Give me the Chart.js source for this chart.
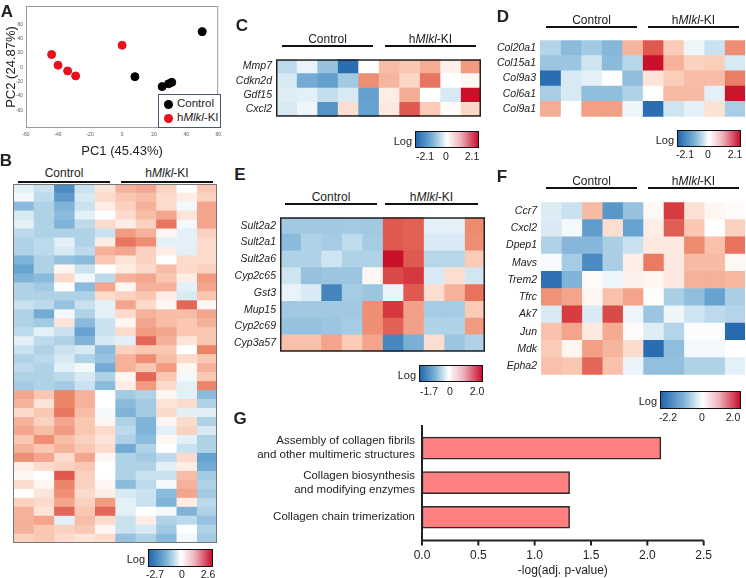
<!DOCTYPE html>
<html>
<head>
<meta charset="utf-8">
<script src="https://cdn.jsdelivr.net/npm/chart.js@4.4.1/dist/chart.umd.min.js"></script>
<style>
  body { margin: 0; background: #fff; width: 746px; height: 578px; overflow: hidden; position: relative; font-family: "Liberation Sans", Arial, sans-serif; }
  canvas { position: absolute; }
  .txt { position: absolute; white-space: nowrap; line-height: 1; color: #222; }
  .rule { position: absolute; height: 1.5px; background: #111; }
  .cbar { position: absolute; border: 1px solid #111; box-sizing: border-box; }
</style>
</head>
<body>
<canvas id="pca" width="225" height="160" style="left:0;top:0"></canvas>
<canvas id="heatB" width="204" height="359" style="left:13px;top:184px"></canvas>
<canvas id="heatC" width="265" height="78" style="left:216px;top:49px"></canvas>
<canvas id="heatD" width="265" height="97" style="left:480px;top:30px"></canvas>
<canvas id="heatE" width="265" height="155" style="left:220px;top:207px"></canvas>
<canvas id="heatF" width="264" height="193" style="left:481px;top:192px"></canvas>
<canvas id="bars" width="526" height="161" style="left:200px;top:417px"></canvas>
<script>
// PCA scores (PC1, PC2)
const controlPC = [{x: 50, y: 50}, {x: 8, y: -13}, {x: 25, y: -27}, {x: 29, y: -23}, {x: 31, y: -21}];
const kiPC = [{x: -44, y: 18}, {x: -40, y: 3}, {x: -34, y: -5}, {x: -29, y: -12}, {x: 0, y: 31}];

// heatmap values, as a fraction of the colour-bar limit (-1 .. 1), 5 control + 5 KI columns
const heatB = [
  [-0.1,-0.2,-0.75,-0.2,0.15, 0.4,0.45,0.25,0,0.3],
  [-0.05,-0.25,-0.65,-0.15,0.2, 0.3,0.35,0.2,0.1,0.25],
  [-0.45,-0.3,-0.5,-0.2,0.1, 0.25,0.4,0.2,-0.05,0.45],
  [-0.15,-0.3,-0.45,-0.1,0, 0.2,0.35,0.45,0.15,0.45],
  [-0.1,-0.3,-0.5,-0.25,0.2, 0.1,0.25,0.65,-0.05,0.45],
  [-0.25,-0.3,-0.3,-0.3,-0.2, 0.5,0.4,0.05,-0.1,0.25],
  [-0.3,-0.25,-0.1,-0.3,0.1, 0.65,0.55,-0.1,-0.1,0.2],
  [-0.3,-0.25,-0.15,-0.25,0.4, 0.45,0.25,0.1,-0.1,0.2],
  [-0.5,-0.3,-0.4,-0.45,0.3, 0.15,0.25,0,0.2,0.2],
  [-0.6,-0.3,0.05,-0.2,0, 0.1,0.2,0.35,0.2,0.25],
  [-0.5,-0.45,0.2,-0.05,-0.25, 0.4,0.45,0.3,0.1,0.5],
  [-0.3,-0.35,0,-0.45,0.45, 0.05,0.4,0.4,-0.1,0.45],
  [-0.3,-0.3,-0.3,-0.3,0.2, 0.25,0.3,0.1,-0.15,0.3],
  [-0.2,-0.25,-0.4,-0.2,-0.1, 0.45,0.2,0.05,0.7,0.05],
  [-0.3,-0.55,-0.05,-0.3,-0.1, 0.2,0.4,0.35,0.35,0.45],
  [-0.3,-0.35,0.15,-0.45,-0.2, 0.05,0.45,0.35,0.3,0.4],
  [-0.25,-0.1,-0.2,-0.6,-0.2, 0.2,0.5,0.45,0.3,0.3],
  [-0.1,-0.25,-0.3,-0.5,-0.15, -0.1,0.7,0.4,0.15,0.3],
  [-0.2,-0.3,-0.2,-0.15,-0.45, 0.25,0.3,0.3,0,0.6],
  [-0.3,-0.25,-0.15,-0.3,-0.4, 0.4,0.55,0.35,0.2,0.3],
  [-0.25,-0.3,-0.1,-0.05,-0.55, 0.4,0.3,0.5,0.05,0.4],
  [-0.3,-0.3,-0.25,-0.15,-0.3, 0.05,0.7,0.3,-0.05,0.3],
  [-0.35,-0.3,-0.35,-0.2,-0.45, 0.1,0.5,0.2,-0.1,0.6],
  [0.45,0.3,0.6,0.4,0, -0.35,-0.3,0.05,-0.1,-0.45],
  [0.4,0.15,0.6,0.4,0, -0.45,-0.35,0.15,0.2,-0.3],
  [0.2,0.3,0.65,0.35,-0.05, -0.5,-0.35,0.2,-0.1,-0.1],
  [0.4,0.25,0.45,0.3,0.05, -0.3,-0.5,0.05,0.2,-0.3],
  [0.45,0.35,0.5,0.3,0.2, -0.25,-0.5,-0.1,0.25,-0.15],
  [0.3,0.55,0.35,0.25,0.15, -0.3,-0.45,0.05,-0.1,-0.3],
  [0.4,0.3,0.4,0.3,0.2, -0.55,-0.3,0,-0.2,-0.3],
  [0.55,0.45,0.2,0.45,0.05, -0.3,-0.35,-0.25,0.2,-0.6],
  [0.1,0.2,0.25,0.3,0, -0.3,-0.3,-0.1,0.1,-0.55],
  [0.05,0,0.75,0.25,0, -0.3,-0.2,-0.2,0.35,-0.35],
  [0.2,0.05,0.6,0.25,0.05, -0.45,-0.25,-0.05,0.4,-0.3],
  [0,0.15,0.55,0.2,0.1, -0.15,-0.2,-0.45,0.45,-0.35],
  [0.25,0.2,0.45,0.25,0.5, -0.1,-0.2,-0.5,0.1,-0.25],
  [0.4,0.15,0.7,0.3,0.7, -0.1,0,-0.05,-0.5,-0.3],
  [0.4,0.45,-0.1,0.35,0.2, -0.2,0.1,-0.3,-0.25,-0.4],
  [0.4,0.3,0.25,0.3,0.05, -0.2,-0.15,-0.35,0,-0.3],
  [0.25,0.3,0.2,0.15,0.2, -0.4,-0.3,-0.45,-0.05,-0.35]
];

const genesC = ['Mmp7', 'Cdkn2d', 'Gdf15', 'Cxcl2'];
const heatC = [
  [-0.25,-0.08,-0.4,-0.95,0, 0.35,0.3,0.42,0.08,0.5],
  [-0.15,-0.55,-0.62,-0.35,0.55, 0.38,0.22,0.65,0,0.05],
  [-0.12,-0.1,-0.22,-0.14,-0.62, 0.1,0.42,0,-0.15,1.0],
  [-0.15,-0.06,-0.7,0.18,-0.6, 0.12,0.75,0.28,0.02,0.22]
];

const genesD = ['Col20a1', 'Col15a1', 'Col9a3', 'Col6a1', 'Col9a1'];
const heatD = [
  [-0.28,-0.45,-0.35,-0.47,0.38, 0.75,0.28,-0.06,-0.2,0.55],
  [-0.38,-0.38,-0.18,-0.45,-0.27, 1.0,0.4,0.25,0.27,-0.15],
  [-0.95,-0.15,-0.1,0,-0.43, 0.15,0.27,0.35,0.35,0.62],
  [-0.33,-0.15,-0.43,-0.43,-0.3, 0,0.36,0.36,-0.1,0.98],
  [0.42,0,0.48,0.48,-0.06, -0.95,-0.18,-0.1,0.16,-0.33]
];

const genesE = ['Sult2a2', 'Sult2a1', 'Sult2a6', 'Cyp2c65', 'Gst3', 'Mup15', 'Cyp2c69', 'Cyp3a57'];
const heatE = [
  [-0.36,-0.36,-0.36,-0.35,-0.36, 0.75,0.72,-0.1,-0.1,0.57],
  [-0.45,-0.3,-0.34,-0.24,-0.34, 0.75,0.72,-0.14,-0.14,0.55],
  [-0.3,-0.3,-0.18,-0.3,-0.3, 1.0,0.75,-0.27,-0.27,0.28],
  [-0.18,-0.4,-0.38,-0.38,0.05, 0.8,0.86,-0.14,0.18,-0.17],
  [-0.08,-0.14,-0.8,-0.34,-0.38, -0.08,0.75,0.18,0.4,0.66],
  [-0.36,-0.36,-0.36,-0.36,0.55, 0.86,0.47,-0.34,-0.34,0.28],
  [-0.4,-0.4,-0.38,-0.34,0.55, 0.72,0.47,-0.3,-0.3,0.5],
  [0.33,0.33,0.46,0.28,0.46, -0.78,-0.52,0.18,-0.38,-0.3]
];

const genesF = ['Ccr7', 'Cxcl2', 'Dpep1', 'Mavs', 'Trem2', 'Tfrc', 'Ak7', 'Jun', 'Mdk', 'Epha2'];
const heatF = [
  [-0.13,-0.2,0.36,-0.68,-0.4, 0.04,0.85,0.17,0.05,0.02],
  [-0.14,-0.04,-0.64,0.18,-0.6, 0.1,0.73,0.3,0,0.25],
  [-0.3,-0.47,-0.47,-0.32,-0.2, 0.12,0.12,0.57,0.33,0.66],
  [-0.03,-0.34,-0.76,-0.32,0.1, 0.63,0.12,0.36,0.36,0.04],
  [-0.92,-0.5,0.03,-0.07,0.08, 0.05,0.13,0.4,0.4,0.37],
  [0.54,0.46,0.05,0.33,0.46, 0.01,-0.32,-0.43,-0.6,-0.32],
  [-0.14,0.85,-0.14,0.8,-0.07, -0.38,-0.06,-0.18,-0.25,-0.28],
  [0.33,0.46,0.12,0.43,0.02, -0.12,-0.28,-0.02,-0.02,-0.97],
  [0.28,0.06,0.48,0.38,0.19, -0.95,-0.43,-0.05,-0.05,0],
  [0.33,0.3,0.7,0.33,-0.08, -0.42,-0.42,-0.3,-0.3,-0.1]
];

// colour bar limits (log)
const cbarB = ['-2.7', '0', '2.6'];
const cbarC = ['-2.1', '0', '2.1'];
const cbarD = ['-2.1', '0', '2.1'];
const cbarE = ['-1.7', '0', '2.0'];
const cbarF = ['-2.2', '0', '2.0'];

// pathway enrichment
const pathways = [
  ['Assembly of collagen fibrils', 'and other multimeric structures'],
  ['Collagen biosynthesis', 'and modifying enzymes'],
  'Collagen chain trimerization'
];
const pathwayScores = [2.12, 1.31, 1.31];

const FONT = '"Liberation Sans", Arial, sans-serif';
Chart.defaults.font.family = FONT;
Chart.defaults.color = '#222';

const stops = [
  [-1, [33, 102, 172]],
  [-0.6, [103, 163, 208]],
  [-0.3, [175, 210, 231]],
  [0, [255, 255, 255]],
  [0.3, [250, 200, 178]],
  [0.6, [236, 132, 104]],
  [1, [200, 16, 40]]
];

function cellColor(v) {
  v = Math.max(-1, Math.min(1, v));
  for (let i = 1; i < stops.length; i++) {
    if (v <= stops[i][0]) {
      const [a, ca] = stops[i - 1];
      const [b, cb] = stops[i];
      const t = (v - a) / (b - a);
      const c = ca.map((x, k) => Math.round(x + (cb[k] - x) * t));
      return `rgb(${c[0]},${c[1]},${c[2]})`;
    }
  }
}

const framePlugin = {
  id: 'frame',
  afterDatasetsDraw(chart, args, opts) {
    if (!opts.color) return;
    const { ctx, chartArea: a } = chart;
    const w = opts.width || 1;
    ctx.save();
    ctx.strokeStyle = opts.color;
    ctx.lineWidth = w;
    ctx.strokeRect(a.left + w / 2, a.top + w / 2, a.right - a.left - w, a.bottom - a.top - w);
    ctx.restore();
  }
};

function heatmap(id, rows, values, showLabels, frameColor, frameWidth) {
  const nCols = values[0].length;
  const datasets = [];
  for (let j = 0; j < nCols; j++) {
    datasets.push({
      data: rows.map(() => 1),
      backgroundColor: values.map(r => cellColor(r[j])),
      borderWidth: 0,
      barPercentage: 1,
      categoryPercentage: 1
    });
  }
  return new Chart(document.getElementById(id), {
    type: 'bar',
    data: { labels: rows, datasets: datasets },
    options: {
      indexAxis: 'y',
      responsive: false,
      animation: false,
      layout: { padding: 0, autoPadding: false },
      plugins: {
        legend: { display: false },
        tooltip: { enabled: false },
        frame: { color: frameColor, width: frameWidth }
      },
      scales: {
        x: { stacked: true, min: 0, max: nCols, display: false },
        y: {
          stacked: true,
          display: showLabels,
          grid: { display: false, drawTicks: false },
          border: { display: false },
          ticks: { padding: 4, autoSkip: false, color: '#222', font: { size: 10.5, style: 'italic' } },
          afterFit: s => { s.width = showLabels ? 60 : 0; }
        }
      }
    },
    plugins: [framePlugin]
  });
}

// A: PCA
new Chart(document.getElementById('pca'), {
  type: 'scatter',
  data: {
    datasets: [
      { label: 'Control', data: controlPC, backgroundColor: '#000', borderColor: '#000', pointRadius: 4 },
      { label: 'hMlkl-KI', data: kiPC, backgroundColor: '#e8101a', borderColor: '#e8101a', pointRadius: 4 }
    ]
  },
  options: {
    responsive: false,
    animation: false,
    layout: { padding: { top: 3, right: 4 }, autoPadding: false },
    plugins: { legend: { display: false }, tooltip: { enabled: false }, frame: { color: '#9a9a9a', width: 1 } },
    scales: {
      x: {
        min: -60, max: 60,
        grid: { display: false, drawTicks: false },
        border: { display: false },
        ticks: { stepSize: 20, padding: 4, color: '#555', font: { size: 5 } },
        title: { display: true, text: 'PC1 (45.43%)', color: '#222', font: { size: 13 }, padding: { top: 0, bottom: 1 } },
        afterFit: s => { s.height = 32; }
      },
      y: {
        min: -85, max: 86,
        grid: { display: false, drawTicks: false },
        border: { display: false },
        ticks: { stepSize: 20, padding: 3, color: '#555', font: { size: 5 } },
        afterBuildTicks: s => { s.ticks = s.ticks.filter(t => t.value % 20 === 0); },
        title: { display: true, text: 'PC2 (24.87%)', color: '#222', font: { size: 13 }, padding: { top: 4, bottom: 0 } },
        afterFit: s => { s.width = 26; }
      }
    }
  },
  plugins: [framePlugin]
});

heatmap('heatB', heatB.map((r, i) => 'gene' + (i + 1)), heatB, false, '#777', 1);
heatmap('heatC', genesC, heatC, true, '#222', 1.5);
heatmap('heatD', genesD, heatD, true, null);
heatmap('heatE', genesE, heatE, true, '#222', 1.5);
heatmap('heatF', genesF, heatF, true, null);

// G: pathway bars
const gAxes = {
  id: 'gAxes',
  afterDraw(chart) {
    const { ctx, chartArea: a, scales } = chart;
    const base = a.bottom + 6;
    ctx.save();
    ctx.strokeStyle = '#222';
    ctx.lineWidth = 2;
    ctx.beginPath();
    ctx.moveTo(a.left, a.top - 6);
    ctx.lineTo(a.left, base);
    ctx.lineTo(a.right, base);
    scales.x.ticks.forEach(t => {
      const x = scales.x.getPixelForValue(t.value);
      ctx.moveTo(x, base);
      ctx.lineTo(x, base + 5);
    });
    ctx.stroke();
    ctx.restore();
  }
};

new Chart(document.getElementById('bars'), {
  type: 'bar',
  data: {
    labels: pathways,
    datasets: [{
      data: pathwayScores,
      backgroundColor: '#ff8080',
      borderColor: '#2a2a2a',
      borderWidth: 1.5,
      borderSkipped: false,
      barThickness: 22
    }]
  },
  options: {
    indexAxis: 'y',
    responsive: false,
    animation: false,
    layout: { padding: { top: 0, right: 12 }, autoPadding: false },
    plugins: { legend: { display: false }, tooltip: { enabled: false } },
    scales: {
      x: {
        min: 0, max: 2.5,
        grid: { display: false, drawTicks: false },
        border: { display: false },
        ticks: { stepSize: 0.5, padding: 14, color: '#222', font: { size: 12 }, callback: v => v.toFixed(1) },
        title: { display: true, text: '-log(adj. p-value)', color: '#222', font: { size: 12 }, padding: 0 },
        afterFit: s => { s.height = 43.5; }
      },
      y: {
        grid: { display: false, drawTicks: false },
        border: { display: false },
        ticks: { padding: 7, color: '#222', font: { size: 11.5 } },
        afterFit: s => { s.width = 222; }
      }
    }
  },
  plugins: [gAxes]
});

// text and decorations
function text(html, x, y, size, align, bold) {
  const d = document.createElement('div');
  d.className = 'txt';
  d.innerHTML = html;
  d.style.left = x + 'px';
  d.style.top = y + 'px';
  d.style.fontSize = size + 'px';
  if (bold) d.style.fontWeight = 'bold';
  const tx = align === 'right' ? '-100%' : align === 'left' ? '0' : '-50%';
  d.style.transform = `translate(${tx}, -50%)`;
  document.body.appendChild(d);
}

function rule(x1, x2, y) {
  const d = document.createElement('div');
  d.className = 'rule';
  d.style.left = x1 + 'px';
  d.style.width = (x2 - x1) + 'px';
  d.style.top = (y - 0.75) + 'px';
  document.body.appendChild(d);
}

function groups(c1, c2, k1, k2, lineY, textY) {
  text('Control', (c1 + c2) / 2, textY, 12);
  text('h<i>Mlkl</i>-KI', (k1 + k2) / 2, textY, 12);
  rule(c1, c2, lineY);
  rule(k1, k2, lineY);
}

function colorbar(labels, x, y, w, h, tickX, tickY) {
  const lo = -parseFloat(labels[0]);
  const hi = parseFloat(labels[2]);
  const z = lo / (lo + hi) * 100;
  const d = document.createElement('div');
  d.className = 'cbar';
  d.style.left = x + 'px';
  d.style.top = y + 'px';
  d.style.width = w + 'px';
  d.style.height = h + 'px';
  d.style.background = `linear-gradient(to right, #2166ac 0%, #7fb4d8 ${z * 0.55}%, #ffffff ${z}%, #eeb0bb ${z + (100 - z) * 0.45}%, #c8102e 100%)`;
  document.body.appendChild(d);
  text('Log', x - 3, y + h / 2 + 1, 11, 'right');
  labels.forEach((l, i) => text(l, tickX[i], tickY, 10.5));
}

// panel letters
text('A', 7, 11, 17, 'center', true);
text('B', 6, 160, 17, 'center', true);
text('C', 242, 25, 17, 'center', true);
text('D', 503, 16, 17, 'center', true);
text('E', 240, 174, 17, 'center', true);
text('F', 502, 176, 17, 'center', true);
text('G', 240, 418, 17, 'center', true);

// A legend
const lg = document.createElement('div');
lg.style.cssText = 'position:absolute;left:158px;top:94px;width:63px;height:34px;border:1.5px solid #4a5670;box-sizing:border-box;background:#fff;';
document.body.appendChild(lg);
[['#000', 'Control', 104], ['#e8101a', 'h<i>Mlkl</i>-KI', 118]].forEach(([c, t, y]) => {
  const dot = document.createElement('div');
  dot.style.cssText = `position:absolute;left:163.5px;top:${y - 4.5}px;width:9px;height:9px;border-radius:50%;background:${c};`;
  document.body.appendChild(dot);
  text(t, 177, y, 11.5, 'left');
});

groups(18, 110, 121, 213, 182, 173);
groups(282, 373, 385, 476, 46, 38.5);
groups(546, 637, 648, 739, 27, 20);
groups(285, 377, 385, 478, 204, 197);
groups(546, 637, 648, 739, 188, 181);

colorbar(cbarB, 148, 549, 65, 18, [155, 182, 208], 574);
colorbar(cbarC, 415, 131, 64, 17, [425, 446, 472], 156);
colorbar(cbarD, 677, 130, 64, 17, [685, 708, 735], 154);
colorbar(cbarE, 419, 365, 64, 17, [429, 450, 477], 391);
colorbar(cbarF, 660, 391, 81, 18, [668, 702, 733], 417);
</script>
</body>
</html>
